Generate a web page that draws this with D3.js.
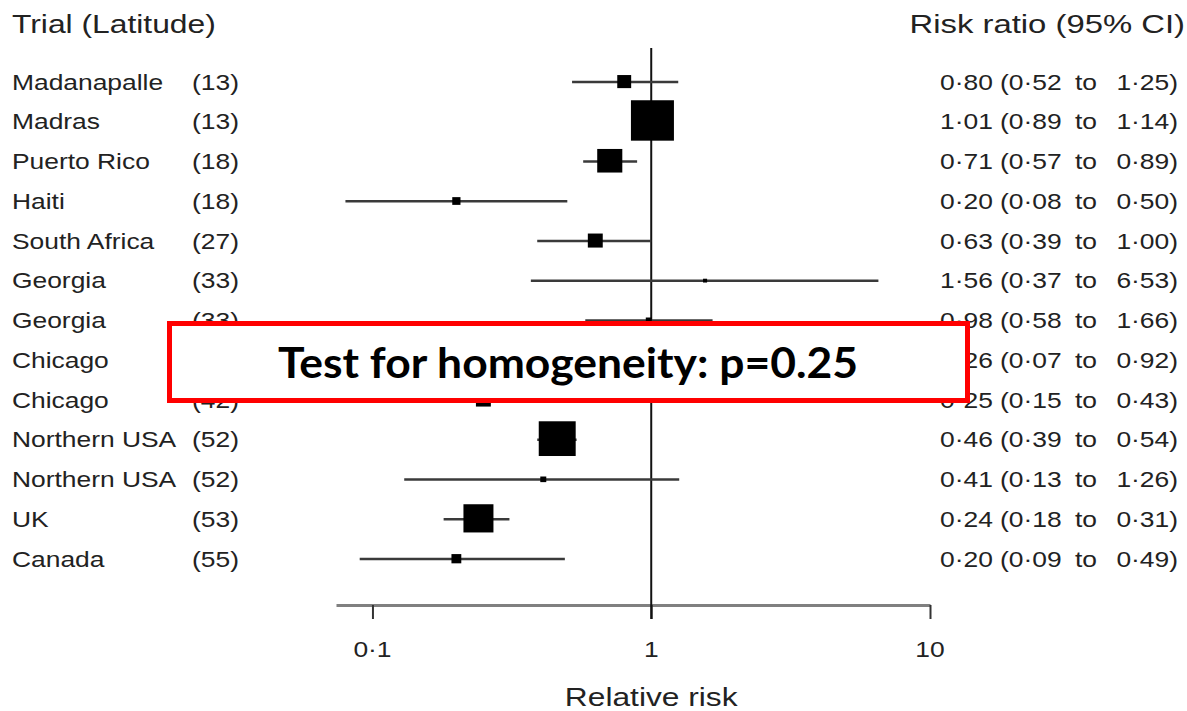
<!DOCTYPE html>
<html>
<head>
<meta charset="utf-8">
<script src="https://cdn.jsdelivr.net/npm/d3@7"></script>
<style>
  body { margin: 0; background: #fff; }
  svg { display: block; }
  .lbl { font-family: "Liberation Sans", Arial, sans-serif; fill: #222; }
</style>
</head>
<body>
<script>
var trials = ["Madanapalle","Madras","Puerto Rico","Haiti","South Africa","Georgia","Georgia","Chicago","Chicago","Northern USA","Northern USA","UK","Canada"];
var latitudes = [13,13,18,18,27,33,33,42,42,52,52,53,55];
var riskRatio = [0.80,1.01,0.71,0.20,0.63,1.56,0.98,0.26,0.25,0.46,0.41,0.24,0.20];
var ciLow = [0.52,0.89,0.57,0.08,0.39,0.37,0.58,0.07,0.15,0.39,0.13,0.18,0.09];
var ciHigh = [1.25,1.14,0.89,0.50,1.00,6.53,1.66,0.92,0.43,0.54,1.26,0.31,0.49];
var weights = [2.0,19.1,6.5,0.7,2.3,0.17,0.37,0.66,2.3,14.1,0.37,9.3,1.0];
var tickValues = [0.1,1,10];
var tickLabels = ["0·1","1","10"];
var homogeneityText = "Test for homogeneity: p=0.25";

var W = 1187, H = 711, SX = 1.2;

var svg = d3.select("body").append("svg").attr("width", W).attr("height", H);

var xScale = d3.scaleLog().domain([0.074, 10]).range([336, 930]);
var yScale = d3.scalePoint().domain(d3.range(trials.length)).range([82, 559]);
var sizeScale = d3.scaleSqrt().domain([0, d3.max(weights)]).range([0, 43]);

var fmt = function(v){ return d3.format(".2f")(v).replace(".", "·"); };

// stretched text helper (the original type is set wide)
var addText = function(g, x, y, txt, size, anchor, sx){
    return g.append("text").attr("class", "lbl")
        .attr("transform", "translate(" + x + "," + y + ") scale(" + (sx || SX) + ",1)")
        .attr("font-size", size)
        .attr("text-anchor", anchor || "start")
        .text(txt);
};

// headers
addText(svg, 12, 33, "Trial (Latitude)", 26.5, "start", 1.2);
addText(svg, 1185, 33, "Risk ratio (95% CI)", 26.5, "end", 1.24);

// axis
var xAxis = d3.axisBottom(xScale).tickValues(tickValues)
    .tickSizeInner(14).tickSizeOuter(0)
    .tickFormat(function(d, i){ return tickLabels[i]; });
var ax = svg.append("g").attr("transform", "translate(0,605)").call(xAxis);
ax.select(".domain").attr("stroke", "#808080").attr("stroke-width", 3);
ax.selectAll(".tick line").attr("stroke", "#333").attr("stroke-width", 2);
ax.selectAll(".tick text").remove();
tickValues.forEach(function(v, i){
    addText(svg, xScale(v), 657, tickLabels[i], 22, "middle");
});
addText(svg, xScale(1), 706, "Relative risk", 26, "middle", 1.22);

// line of no effect
svg.append("line")
    .attr("x1", xScale(1)).attr("x2", xScale(1))
    .attr("y1", 48).attr("y2", 619)
    .attr("stroke", "#111").attr("stroke-width", 2);

var rows = svg.append("g").selectAll("g").data(d3.range(trials.length)).enter().append("g");

rows.append("line")
    .attr("x1", function(i){ return xScale(ciLow[i]); })
    .attr("x2", function(i){ return xScale(ciHigh[i]); })
    .attr("y1", function(i){ return yScale(i); })
    .attr("y2", function(i){ return yScale(i); })
    .attr("stroke", "#3a3a3a").attr("stroke-width", 2.5);

rows.append("rect")
    .attr("x", function(i){ return xScale(riskRatio[i]) - Math.max(4, sizeScale(weights[i])) / 2; })
    .attr("y", function(i){ return yScale(i) - Math.max(4, sizeScale(weights[i])) / 2; })
    .attr("width", function(i){ return Math.max(4, sizeScale(weights[i])); })
    .attr("height", function(i){ return Math.max(4, sizeScale(weights[i])) * 0.94; })
    .attr("fill", "#000");

rows.each(function(i){
    var g = d3.select(this);
    var y = yScale(i) + 7.5;
    addText(g, 12, y, trials[i], 22);
    addText(g, 192, y, "(" + latitudes[i] + ")", 22);
    addText(g, 940, y, fmt(riskRatio[i]), 22);
    addText(g, 1000, y, "(" + fmt(ciLow[i]), 22);
    addText(g, 1075, y, "to", 22);
    addText(g, 1178, y, fmt(ciHigh[i]) + ")", 22, "end");
});

// annotation box
svg.append("rect")
    .attr("x", 169.5).attr("y", 323.5)
    .attr("width", 798).attr("height", 77)
    .attr("fill", "#fff").attr("stroke", "#ff0000").attr("stroke-width", 5);
svg.append("text")
    .attr("x", 278).attr("y", 378)
    .attr("font-family", "Lato, 'Open Sans', sans-serif")
    .attr("font-weight", 700).attr("font-size", 42)
    .attr("textLength", 580).attr("lengthAdjust", "spacingAndGlyphs")
    .attr("fill", "#000")
    .text(homogeneityText);
</script>
</body>
</html>
